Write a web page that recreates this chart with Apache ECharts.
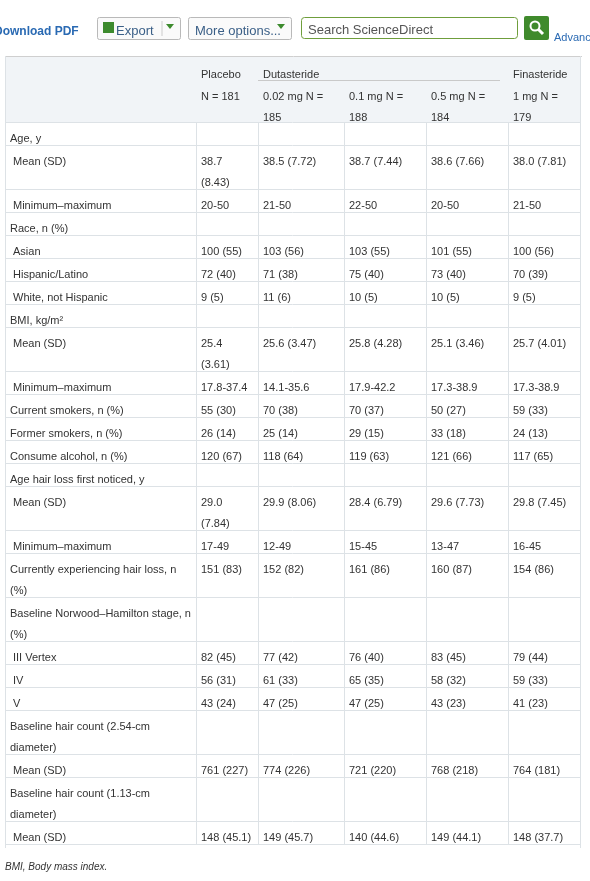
<!DOCTYPE html>
<html><head><meta charset="utf-8">
<script src="https://cdn.jsdelivr.net/npm/echarts@6/dist/echarts.min.js"></script>
<style>html,body{margin:0;padding:0;background:#fff}#c{width:590px;height:881px}</style>
</head><body><div id="c"></div>
<script>
const headerRow1 = ["", "Placebo", "Dutasteride", "", "", "Finasteride"];
const headerRow2 = ["", "N = 181", "0.02 mg N =\n185", "0.1 mg N =\n188", "0.5 mg N =\n184", "1 mg N =\n179"];
const rowLabels = ["Age, y"," Mean (SD)"," Minimum–maximum","Race, n (%)"," Asian"," Hispanic/Latino"," White, not Hispanic","BMI, kg/m²"," Mean (SD)"," Minimum–maximum","Current smokers, n (%)","Former smokers, n (%)","Consume alcohol, n (%)","Age hair loss first noticed, y"," Mean (SD)"," Minimum–maximum","Currently experiencing hair loss, n\n(%)","Baseline Norwood–Hamilton stage, n\n(%)"," III Vertex"," IV"," V","Baseline hair count (2.54-cm\ndiameter)"," Mean (SD)","Baseline hair count (1.13-cm\ndiameter)"," Mean (SD)"];
const placebo = ["","38.7\n(8.43)","20-50","","100 (55)","72 (40)","9 (5)","","25.4\n(3.61)","17.8-37.4","55 (30)","26 (14)","120 (67)","","29.0\n(7.84)","17-49","151 (83)","","82 (45)","56 (31)","43 (24)","","761 (227)","","148 (45.1)"];
const duta002 = ["","38.5 (7.72)","21-50","","103 (56)","71 (38)","11 (6)","","25.6 (3.47)","14.1-35.6","70 (38)","25 (14)","118 (64)","","29.9 (8.06)","12-49","152 (82)","","77 (42)","61 (33)","47 (25)","","774 (226)","","149 (45.7)"];
const duta01 = ["","38.7 (7.44)","22-50","","103 (55)","75 (40)","10 (5)","","25.8 (4.28)","17.9-42.2","70 (37)","29 (15)","119 (63)","","28.4 (6.79)","15-45","161 (86)","","76 (40)","65 (35)","47 (25)","","721 (220)","","140 (44.6)"];
const duta05 = ["","38.6 (7.66)","20-50","","101 (55)","73 (40)","10 (5)","","25.1 (3.46)","17.3-38.9","50 (27)","33 (18)","121 (66)","","29.6 (7.73)","13-47","160 (87)","","83 (45)","58 (32)","43 (23)","","768 (218)","","149 (44.1)"];
const finast = ["","38.0 (7.81)","21-50","","100 (56)","70 (39)","9 (5)","","25.7 (4.01)","17.3-38.9","59 (33)","24 (13)","117 (65)","","29.8 (7.45)","16-45","154 (86)","","79 (44)","59 (33)","41 (23)","","764 (181)","","148 (37.7)"];
const footnote = "BMI, Body mass index.";

const colX = [5, 196, 258, 344, 426, 508, 580];
const font = '11px "Liberation Sans", Arial, sans-serif';
const col = '#333';
const lineC = '#dde2e6';
const g = [];
function txt(x,y,s,extra){g.push({type:'text',x:x,y:y,style:Object.assign({text:s,font:font,fill:col,lineHeight:21.5,verticalAlign:'top'},extra||{})});}
function ln(x1,y1,x2,y2,c,w){g.push({type:'line',shape:{x1:x1,y1:y1,x2:x2,y2:y2},style:{stroke:c||lineC,lineWidth:w||1}});}
function rect(x,y,w,h,f,s,r){g.push({type:'rect',shape:{x:x,y:y,width:w,height:h,r:r||0},style:{fill:f,stroke:s||null,lineWidth:1}});}

// toolbar
txt(-6,21,'Download PDF',{font:'bold 12px "Liberation Sans", Arial',fill:'#2a6ab3'});
rect(97.5,17.5,83,22,'#fafafa','#b9b9b9',2);
rect(103,22,11,11,'#3d8b2e');
txt(116,21,'Export',{font:'13px "Liberation Sans", Arial',fill:'#3a5f87'});
ln(162,21,162,36,'#ccc');
g.push({type:'polygon',shape:{points:[[166,24],[174,24],[170,29]]},style:{fill:'#3d8b2e'}});
rect(188.5,17.5,103,22,'#fafafa','#b9b9b9',2);
txt(195,21,'More options...',{font:'13px "Liberation Sans", Arial',fill:'#3a5f87'});
g.push({type:'polygon',shape:{points:[[277,24],[285,24],[281,29]]},style:{fill:'#3d8b2e'}});
rect(301.5,17.5,216,21,'#fff','#6f9e3c',3);
txt(308,20,'Search ScienceDirect',{font:'13px "Liberation Sans", Arial',fill:'#555'});
rect(524,16,25,24,'#3f8a2c',null,2);
g.push({type:'circle',shape:{cx:535,cy:26,r:4.5},style:{fill:'transparent',stroke:'#fff',lineWidth:2}});
ln(538,29,543,34,'#fff',3);
txt(554,27,'Advanc',{font:'11px "Liberation Sans", Arial',fill:'#2a6ab3'});

// table header
const tableTop = 56;
rect(colX[0],tableTop+1,colX[6]-colX[0],65,'#f1f4f7');
ln(colX[0],tableTop+0.5,colX[6]+2,tableTop+0.5,'#cfcfcf');
ln(colX[0]+0.5,tableTop,colX[0]+0.5,848,lineC);
ln(colX[6]+0.5,tableTop,colX[6]+0.5,848,lineC);
for(let c=1;c<6;c++){ if(headerRow1[c]) txt(colX[c]+5,64,headerRow1[c]); txt(colX[c]+5,86,headerRow2[c]); }
ln(258,80.5,500,80.5,'#c9c9c9');

// body
const cols = [rowLabels, placebo, duta002, duta01, duta05, finast];
let y = 122;
ln(colX[0],y+0.5,colX[6],y+0.5);
for(let r=0;r<rowLabels.length;r++){
  let n=1; cols.forEach(a=>{n=Math.max(n,(a[r]||'').split('\n').length);});
  const h = n===1?23:44;
  for(let c=0;c<6;c++){
    let s = cols[c][r]; if(!s) continue;
    let x = colX[c]+5;
    if(c===0){ x = s.startsWith(' ')?13:10; s = s.trim(); }
    txt(x,y+6,s);
  }
  y+=h;
  ln(colX[0],Math.round(y)+0.5,colX[6],Math.round(y)+0.5);
}
for(let c=1;c<6;c++) ln(colX[c]+0.5,122,colX[c]+0.5,y);
txt(5,856,footnote,{font:'italic 10px "Liberation Sans", Arial'});

const chart = echarts.init(document.getElementById('c'),null,{renderer:'canvas'});
chart.setOption({animation:false,graphic:{elements:g}});
</script></body></html>
